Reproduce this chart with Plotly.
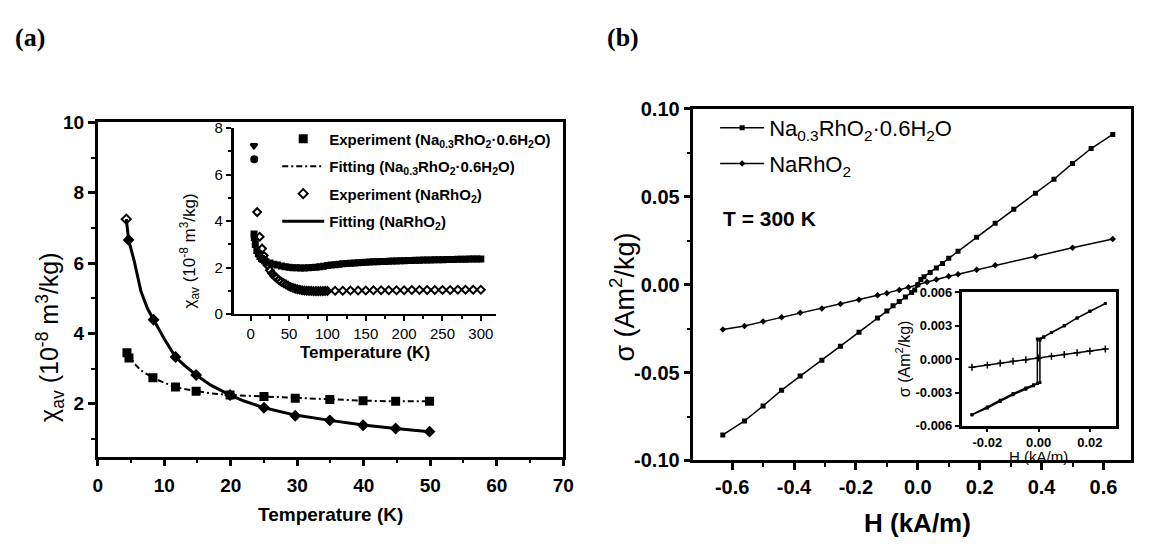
import plotly.graph_objects as go

W, H = 1167, 555

# ---------------- Panel (a) main data ----------------
T_exp_na03 = [4.4, 4.7, 8.3, 11.7, 14.8, 19.9, 25.0, 29.7, 34.9, 39.9, 44.8, 49.9]
chi_exp_na03 = [3.45, 3.30, 2.74, 2.48, 2.36, 2.25, 2.21, 2.16, 2.12, 2.09, 2.07, 2.07]
T_fit_na03 = [4.4, 5.5, 6.5, 8.3, 10.0, 11.7, 13.0, 14.8, 17.0, 19.9, 25.0, 29.7, 34.9, 39.9, 44.8, 49.9]
chi_fit_na03 = [3.45, 3.15, 2.95, 2.74, 2.60, 2.48, 2.42, 2.36, 2.30, 2.25, 2.21, 2.16, 2.12, 2.09, 2.07, 2.07]

T_exp_na = [4.3, 4.65, 8.4, 11.7, 14.8, 19.9, 25.0, 29.7, 34.9, 39.9, 44.8, 49.9]
chi_exp_na = [7.25, 6.66, 4.39, 3.33, 2.82, 2.25, 1.89, 1.66, 1.53, 1.39, 1.30, 1.21]
T_fit_na = [4.3, 4.65, 5.5, 6.5, 7.5, 8.4, 10.0, 11.7, 13.0, 14.8, 17.0, 19.9, 22.0, 25.0, 29.7, 34.9, 39.9, 44.8, 49.9]
chi_fit_na = [7.25, 6.66, 6.05, 5.20, 4.70, 4.39, 3.85, 3.33, 3.10, 2.82, 2.53, 2.25, 2.08, 1.89, 1.68, 1.53, 1.40, 1.30, 1.21]

# ---------------- Panel (a) inset data ----------------
T_in_na03 = [4.4, 4.7, 6, 8, 10, 12, 14, 16, 18, 20, 25, 30, 35, 40, 45, 50, 55, 60, 65, 70,
             75, 80, 85, 90, 95, 100, 105, 110, 115, 120, 125, 130, 135, 140, 145, 150, 155,
             160, 165, 170, 175, 180, 185, 190, 195, 200, 205, 210, 215, 220, 225, 230, 235,
             240, 245, 250, 255, 260, 265, 270, 275, 280, 285, 290, 295, 300]
chi_in_na03 = [3.45, 3.30, 3.00, 2.74, 2.60, 2.48, 2.40, 2.35, 2.30, 2.25, 2.20, 2.15, 2.11,
               2.07, 2.04, 2.02, 2.00, 2.00, 1.99, 1.99, 2.00, 2.01, 2.02, 2.04, 2.06, 2.09,
               2.11, 2.13, 2.15, 2.17, 2.18, 2.19, 2.20, 2.21, 2.22, 2.23, 2.24, 2.25, 2.26,
               2.27, 2.27, 2.28, 2.29, 2.29, 2.30, 2.30, 2.31, 2.31, 2.32, 2.32, 2.33, 2.33,
               2.33, 2.34, 2.34, 2.34, 2.35, 2.35, 2.35, 2.36, 2.36, 2.36, 2.37, 2.37, 2.37,
               2.37]
T_in_na = [4.3, 4.65, 8.4, 11.7, 14.8, 17, 20, 22, 25, 28, 31, 34, 37, 40, 43, 46, 49, 52, 55,
           58, 61, 64, 67, 70, 73, 76, 79, 82, 85, 88, 91, 94, 97, 100, 110, 120, 130, 140,
           150, 160, 170, 180, 190, 200, 210, 220, 230, 240, 250, 260, 270, 280, 290, 300]
chi_in_na = [7.25, 6.66, 4.39, 3.33, 2.82, 2.52, 2.25, 2.10, 1.89, 1.75, 1.63, 1.55, 1.46, 1.39,
             1.33, 1.28, 1.22, 1.17, 1.13, 1.10, 1.07, 1.05, 1.03, 1.02, 1.01, 1.00, 1.00,
             0.99, 0.99, 0.99, 0.99, 0.99, 1.00, 1.00, 1.01, 1.01, 1.02, 1.02, 1.02, 1.03,
             1.03, 1.03, 1.03, 1.03, 1.04, 1.04, 1.04, 1.04, 1.04, 1.04, 1.05, 1.05, 1.05,
             1.05]

# ---------------- Panel (b) main data ----------------
H_na03 = [-0.63, -0.56, -0.50, -0.44, -0.38, -0.31, -0.25, -0.19, -0.13, -0.10, -0.08, -0.06,
          -0.04, -0.02, -0.01, 0.0, 0.01, 0.02, 0.04, 0.06, 0.08, 0.10, 0.13, 0.19, 0.25, 0.31,
          0.38, 0.44, 0.50, 0.56, 0.63]
sig_na03 = [-0.0855, -0.0775, -0.0690, -0.0600, -0.0520, -0.0430, -0.0350, -0.0270, -0.0190,
            -0.0150, -0.0120, -0.0095, -0.0070, -0.0045, -0.0030, 0.0, 0.0030, 0.0045, 0.0070,
            0.0095, 0.0120, 0.0150, 0.0190, 0.0270, 0.0350, 0.0430, 0.0520, 0.0600, 0.0690,
            0.0775, 0.0855]
H_na = [-0.63, -0.56, -0.50, -0.44, -0.38, -0.31, -0.25, -0.19, -0.13, -0.10, -0.06, -0.03,
        0.0, 0.03, 0.06, 0.10, 0.13, 0.19, 0.25, 0.38, 0.50, 0.63]
sig_na = [-0.0255, -0.0235, -0.0210, -0.0185, -0.0160, -0.0135, -0.0110, -0.0085, -0.0060,
          -0.0048, -0.0030, -0.0015, 0.0, 0.0015, 0.0030, 0.0048, 0.0060, 0.0085, 0.0110,
          0.0160, 0.0210, 0.0260]

# ---------------- Panel (b) inset data ----------------
H_in_na03 = [-0.026, -0.020, -0.015, -0.010, -0.005, -0.002, 0.0005, 0.0005, 0.002, 0.005,
             0.010, 0.015, 0.020, 0.026, 0.020, 0.015, 0.010, 0.005, 0.002, -0.0005, -0.0005,
             -0.002, -0.005, -0.010, -0.015, -0.020, -0.026]
sig_in_na03 = [-0.0050, -0.0043, -0.0037, -0.0031, -0.0026, -0.0023, -0.0021, 0.0017, 0.0020,
               0.0024, 0.0030, 0.0037, 0.0043, 0.0050, 0.0043, 0.0037, 0.0030, 0.0024, 0.0020,
               0.0018, -0.0022, -0.0024, -0.0027, -0.0032, -0.0038, -0.0044, -0.0050]
H_in_na = [-0.026, -0.020, -0.015, -0.010, -0.005, 0.0, 0.005, 0.010, 0.015, 0.020, 0.026]
sig_in_na = [-0.00072, -0.00052, -0.00036, -0.00020, -0.00005, 0.00010, 0.00025, 0.00042,
             0.00058, 0.00074, 0.00092]

# tick labels
a_xticks = [0, 10, 20, 30, 40, 50, 60, 70]
a_yticks = [2, 4, 6, 8, 10]
ai_xticks = [0, 50, 100, 150, 200, 250, 300]
ai_yticks = [0, 2, 4, 6, 8]
b_xticks = [-0.6, -0.4, -0.2, 0.0, 0.2, 0.4, 0.6]
b_xtext = ["-0.6", "-0.4", "-0.2", "0.0", "0.2", "0.4", "0.6"]
b_yticks = [-0.10, -0.05, 0.0, 0.05, 0.10]
b_ytext = ["-0.10", "-0.05", "0.00", "0.05", "0.10"]
bi_xticks = [-0.02, 0.0, 0.02]
bi_xtext = ["-0.02", "0.00", "0.02"]
bi_yticks = [-0.006, -0.003, 0.0, 0.003, 0.006]
bi_ytext = ["-0.006", "-0.003", "0.000", "0.003", "0.006"]

FONT = "Liberation Sans"
BLACK = "black"


def px_x(p):
    return p / W


def px_y(p):
    return 1 - p / H


fig = go.Figure()

NA03 = "Na<sub>0.3</sub>RhO<sub>2</sub>·0.6H<sub>2</sub>O"
NA = "NaRhO<sub>2</sub>"

na_symbols = ["diamond-open"] + ["diamond"] * (len(T_exp_na) - 1)
na_in_symbols = ["triangle-down", "circle", "diamond-open"] + ["diamond-open"] * (len(T_in_na) - 3)

# main (a)
fig.add_trace(go.Scatter(x=T_exp_na03, y=chi_exp_na03, mode="markers", xaxis="x", yaxis="y",
                         marker=dict(symbol="square", size=9, color=BLACK),
                         name="Experiment (" + NA03 + ")", legend="legend", legendgroup="g1"))
fig.add_trace(go.Scatter(x=T_fit_na03, y=chi_fit_na03, mode="lines", xaxis="x", yaxis="y",
                         line=dict(color=BLACK, width=2, dash="6px,3px,2px,3px"),
                         name="Fitting (" + NA03 + ")", legend="legend", legendgroup="g2"))
fig.add_trace(go.Scatter(x=T_exp_na, y=chi_exp_na, mode="markers", xaxis="x", yaxis="y",
                         marker=dict(symbol=na_symbols, size=7, color=BLACK, line=dict(width=2, color=BLACK)),
                         name="Experiment (" + NA + ")", legend="legend", legendgroup="g3"))
fig.add_trace(go.Scatter(x=T_fit_na, y=chi_fit_na, mode="lines", xaxis="x", yaxis="y",
                         line=dict(color=BLACK, width=3),
                         name="Fitting (" + NA + ")", legend="legend", legendgroup="g4"))

# inset (a)
fig.add_trace(go.Scatter(x=T_in_na03, y=chi_in_na03, mode="markers", xaxis="x2", yaxis="y2",
                         marker=dict(symbol="square", size=7, color=BLACK), showlegend=False))
fig.add_trace(go.Scatter(x=T_in_na, y=chi_in_na, mode="markers", xaxis="x2", yaxis="y2",
                         marker=dict(symbol=na_in_symbols, size=6, color=BLACK, line=dict(width=2, color=BLACK)),
                         showlegend=False))

# main (b)
fig.add_trace(go.Scatter(x=H_na03, y=sig_na03, mode="lines+markers", xaxis="x3", yaxis="y3",
                         line=dict(color=BLACK, width=1.5),
                         marker=dict(symbol="square", size=5, color=BLACK),
                         name=NA03, legend="legend2", legendgroup="h1"))
fig.add_trace(go.Scatter(x=H_na, y=sig_na, mode="lines+markers", xaxis="x3", yaxis="y3",
                         line=dict(color=BLACK, width=1.5),
                         marker=dict(symbol="diamond", size=5, color=BLACK),
                         name=NA, legend="legend2", legendgroup="h2"))

# inset (b)
fig.add_trace(go.Scatter(x=H_in_na03, y=sig_in_na03, mode="lines+markers", xaxis="x4", yaxis="y4",
                         line=dict(color=BLACK, width=1.5),
                         marker=dict(symbol="square", size=3, color=BLACK), showlegend=False))
fig.add_trace(go.Scatter(x=H_in_na, y=sig_in_na, mode="lines+markers", xaxis="x4", yaxis="y4",
                         line=dict(color=BLACK, width=1.5),
                         marker=dict(symbol="cross-thin-open", size=5, color=BLACK, line=dict(width=1.5)),
                         showlegend=False))

bold = lambda s: dict(family=FONT, size=s, color=BLACK, weight="bold")
reg = lambda s: dict(family=FONT, size=s, color=BLACK)

common = dict(showgrid=False, zeroline=False, showline=True, linecolor=BLACK, ticks="outside",
              tickcolor=BLACK)

fig.update_layout(
    width=W, height=H, margin=dict(l=0, r=0, t=0, b=0),
    paper_bgcolor="white", plot_bgcolor="rgba(0,0,0,0)",
    xaxis=dict(**common, domain=[px_x(94), px_x(566)], range=[0, 70], tickvals=a_xticks,
               linewidth=2.5, mirror=True, ticklen=7, tickwidth=2.5, tickfont=bold(19),
               ticklabelstandoff=3,
               minor=dict(dtick=5, tick0=0, ticks="outside", ticklen=4, tickwidth=2, tickcolor=BLACK),
               anchor="y"),
    yaxis=dict(**common, domain=[px_y(464), px_y(116)], range=[0.5, 10], tickvals=a_yticks,
               linewidth=2.5, mirror=True, ticklen=7, tickwidth=2.5, tickfont=bold(19),
               minor=dict(dtick=2, tick0=1, ticks="outside", ticklen=4, tickwidth=2, tickcolor=BLACK),
               anchor="x"),
    xaxis2=dict(**common, domain=[px_x(232), px_x(498)], range=[-22, 320], tickvals=ai_xticks,
                linewidth=2, ticklen=5, tickwidth=2, tickfont=reg(15),
                minor=dict(dtick=25, tick0=0, ticks="outside", ticklen=3, tickwidth=1.5, tickcolor=BLACK),
                anchor="y2"),
    yaxis2=dict(**common, domain=[px_y(315.7), px_y(122)], range=[0, 8], tickvals=ai_yticks,
                linewidth=3, ticklen=5, tickwidth=2, tickfont=reg(15),
                minor=dict(dtick=2, tick0=1, ticks="outside", ticklen=3, tickwidth=1.5, tickcolor=BLACK),
                anchor="x2"),
    xaxis3=dict(**common, domain=[px_x(698), px_x(1142)], range=[-0.725, 0.69], tickvals=b_xticks,
                ticktext=b_xtext, linewidth=2.5, mirror=True, ticklen=7, tickwidth=2.5, tickfont=bold(20),
                minor=dict(tickvals=[-0.5, -0.3, -0.1, 0.1, 0.3, 0.5], ticks="outside", ticklen=4,
                           tickwidth=2, tickcolor=BLACK),
                anchor="y3"),
    yaxis3=dict(**common, domain=[px_y(468), px_y(102)], range=[-0.1, 0.1], tickvals=b_yticks,
                ticktext=b_ytext, linewidth=2.5, mirror=True, ticklen=7, tickwidth=2.5, tickfont=bold(20),
                minor=dict(tickvals=[-0.075, -0.025, 0.025, 0.075], ticks="outside", ticklen=4,
                           tickwidth=2, tickcolor=BLACK),
                anchor="x3"),
    xaxis4=dict(**common, domain=[px_x(970), px_x(1126)], range=[-0.03, 0.03], tickvals=bi_xticks,
                ticktext=bi_xtext, linewidth=2.5, mirror=True, ticklen=3, tickwidth=2, tickfont=bold(13),
                ticklabelstandoff=0, anchor="y4"),
    yaxis4=dict(**common, domain=[px_y(432), px_y(293)], range=[-0.006, 0.006], tickvals=bi_yticks,
                ticktext=bi_ytext, linewidth=2.5, mirror=True, ticklen=4, tickwidth=2, tickfont=bold(13),
                anchor="x4"),
    legend=dict(x=px_x(276), y=px_y(116), xanchor="left", yanchor="top", font=bold(15),
                bgcolor="rgba(0,0,0,0)", tracegroupgap=5, itemwidth=42, traceorder="grouped"),
    legend2=dict(x=px_x(720), y=px_y(100), xanchor="left", yanchor="top", font=reg(22),
                 bgcolor="rgba(0,0,0,0)", tracegroupgap=4, itemwidth=44, traceorder="grouped"),
    showlegend=True,
)

# white background for the panel (b) inset
fig.add_shape(type="rect", xref="x4 domain", yref="y4 domain", x0=0, x1=1, y0=0, y1=1,
              fillcolor="white", line=dict(width=0), layer="below")

ann = [
    dict(text="<b>(a)</b>", x=px_x(8), y=px_y(28), xanchor="left", yanchor="middle",
         font=dict(family="Liberation Serif", size=26, color=BLACK)),
    dict(text="<b>(b)</b>", x=px_x(608), y=px_y(28), xanchor="left", yanchor="middle",
         font=dict(family="Liberation Serif", size=26, color=BLACK)),
    dict(text="<b>Temperature (K)</b>", x=px_x(330), y=px_y(524), xanchor="center", yanchor="middle",
         font=reg(19)),
    dict(text="χ<sub>av</sub> (10<sup>-8</sup> m<sup>3</sup>/kg)", x=px_x(45), y=px_y(340),
         xanchor="center", yanchor="middle", textangle=-90, font=reg(25)),
    dict(text="<b>Temperature (K)</b>", x=px_x(365), y=px_y(356), xanchor="center", yanchor="middle",
         font=reg(17)),
    dict(text="χ<sub>av</sub> (10<sup>-8</sup> m<sup>3</sup>/kg)", x=px_x(187), y=px_y(250),
         xanchor="center", yanchor="middle", textangle=-90, font=reg(17)),
    dict(text="<b>H (kA/m)</b>", x=px_x(925), y=px_y(533), xanchor="center", yanchor="middle",
         font=reg(26)),
    dict(text="σ (Am<sup>2</sup>/kg)", x=px_x(626), y=px_y(298), xanchor="center", yanchor="middle",
         textangle=-90, font=reg(27)),
    dict(text="<b>T = 300 K</b>", x=px_x(726), y=px_y(216), xanchor="left", yanchor="middle",
         font=reg(21)),
    dict(text="σ (Am<sup>2</sup>/kg)", x=px_x(910), y=px_y(362), xanchor="center", yanchor="middle",
         textangle=-90, font=reg(16)),
    dict(text="H (kA/m)", x=px_x(1048), y=px_y(464), xanchor="center", yanchor="middle",
         font=reg(15)),
]
for a in ann:
    fig.add_annotation(xref="paper", yref="paper", showarrow=False, **a)

fig.write_html("out.html")
